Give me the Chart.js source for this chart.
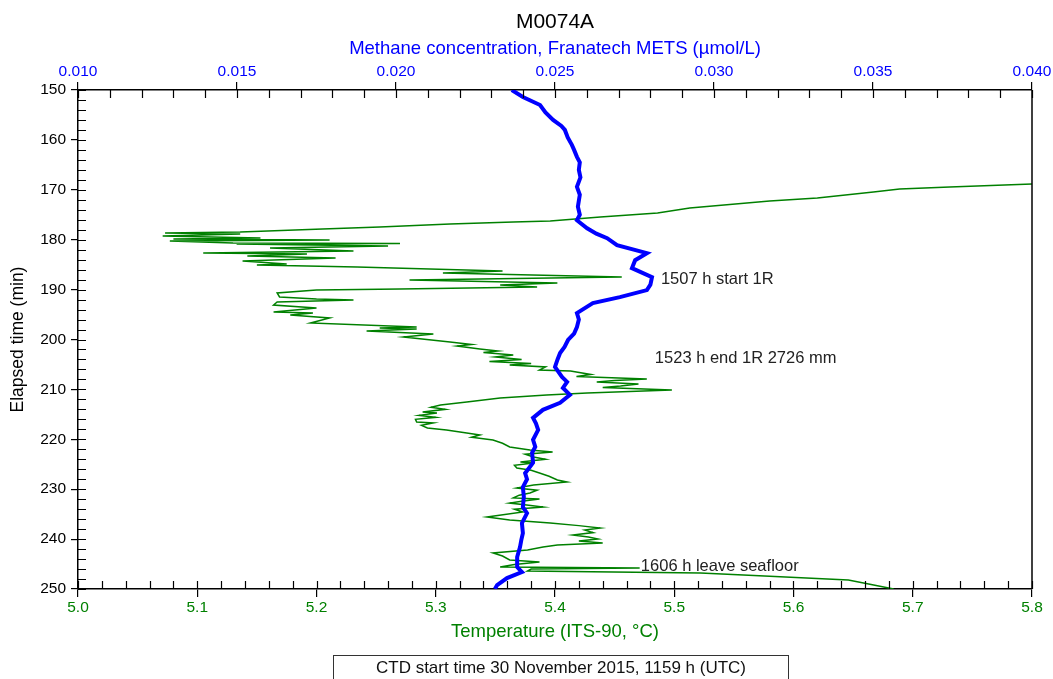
<!DOCTYPE html>
<html>
<head>
<meta charset="utf-8">
<title>M0074A</title>
<script src="https://cdn.jsdelivr.net/npm/chart.js@4"></script>
<style>
  html, body { margin: 0; padding: 0; background: #fff; }
  #wrap { width: 1053px; height: 679px; }
</style>
</head>
<body>
<div id="wrap"><canvas id="chart" width="1053" height="679"></canvas></div>
<script>
// Methane (top axis) vs elapsed time
const methaneTime = [150.0, 151.4, 153.0, 154.5, 156.0, 157.2, 158.0, 159.5, 161.0, 162.0, 163.4, 164.5,
    166.0, 167.5, 169.4, 171.0, 173.4, 175.0, 176.1, 177.7, 178.8, 179.7, 181.1, 182.7, 184.1, 185.7,
    187.5, 189.0, 190.1, 191.5, 192.7, 194.7, 196.0, 197.5, 198.8, 200.1, 201.5, 202.7, 204.0, 205.5,
    207.5, 208.5, 209.7, 211.1, 212.7, 214.1, 215.7, 216.8, 218.1, 220.1, 221.5, 222.7, 224.7, 226.8,
    228.0, 229.6, 231.5, 233.6, 234.8, 236.8, 238.8, 240.2, 241.6, 243.6, 245.6, 246.6, 247.8, 249.2,
    250.0];
const methaneValues = [0.02364, 0.02399, 0.02453, 0.02470, 0.02494, 0.02520, 0.02531, 0.02540, 0.02553,
    0.02560, 0.02569, 0.02578, 0.02575, 0.02580, 0.02569, 0.02578, 0.02572, 0.02578, 0.02569, 0.02601,
    0.02630, 0.02664, 0.02695, 0.02789, 0.02752, 0.02742, 0.02805, 0.02800, 0.02789, 0.02704, 0.02619,
    0.02569, 0.02575, 0.02569, 0.02560, 0.02541, 0.02530, 0.02516, 0.02508, 0.02500, 0.02522, 0.02538,
    0.02525, 0.02547, 0.02516, 0.02462, 0.02431, 0.02440, 0.02447, 0.02431, 0.02438, 0.02428, 0.02431,
    0.02406, 0.02412, 0.02399, 0.02402, 0.02399, 0.02412, 0.02396, 0.02399, 0.02394, 0.02390, 0.02381,
    0.02381, 0.02396, 0.02349, 0.02318, 0.02311];

// Temperature (bottom axis) vs elapsed time
const tempTime = [168.84, 169.44, 169.84, 170.44, 171.64, 172.24, 173.65, 174.65, 175.45, 176.25, 176.45,
    176.85, 177.45, 177.86, 178.46, 178.66, 178.86, 179.26, 179.66, 179.86, 180.06, 180.26, 180.66, 180.76,
    180.86, 181.26, 181.66, 182.26, 182.67, 182.87, 183.27, 183.67, 184.27, 184.87, 185.07, 185.47, 186.27,
    186.67, 187.47, 188.08, 188.68, 189.08, 189.48, 189.88, 190.08, 190.68, 191.48, 191.88, 192.08, 192.48,
    193.09, 193.69, 194.49, 194.69, 195.09, 195.69, 196.69, 197.49, 197.70, 197.90, 198.30, 198.90, 199.50,
    200.50, 201.00, 201.30, 201.90, 202.30, 202.60, 203.11, 203.50, 204.00, 204.40, 204.80, 205.11, 205.50,
    206.11, 206.31, 207.00, 207.40, 207.92, 208.20, 208.52, 208.90, 209.32, 209.60, 210.12, 210.72, 211.12,
    211.72, 212.53, 213.13, 213.60, 214.00, 214.53, 214.73, 215.20, 215.60, 216.00, 216.53, 216.73, 217.20,
    217.74, 218.14, 218.74, 219.14, 219.60, 220.14, 220.80, 221.54, 222.14, 222.55, 223.00, 223.55, 224.00,
    224.55, 224.75, 225.20, 225.75, 226.20, 226.75, 227.40, 228.16, 228.56, 229.16, 229.76, 230.20, 230.76,
    231.20, 231.76, 231.96, 232.40, 232.77, 233.20, 233.57, 234.00, 234.57, 235.57, 236.17, 236.77, 237.30,
    237.78, 238.20, 238.70, 239.18, 239.60, 240.00, 240.40, 240.78, 241.18, 241.60, 242.18, 242.79, 243.40,
    244.19, 244.59, 245.10, 245.59, 245.79, 246.00, 246.39, 246.79, 247.19, 248.20, 249.00, 250.00];
const tempValues = [5.800, 5.731, 5.689, 5.667, 5.620, 5.580, 5.513, 5.486, 5.438, 5.396, 5.365,
    5.312, 5.253, 5.205, 5.136, 5.073, 5.136, 5.071, 5.153, 5.080, 5.211, 5.077, 5.130, 5.270,
    5.133, 5.260, 5.161, 5.231, 5.105, 5.192, 5.142, 5.216, 5.138, 5.175, 5.150, 5.234, 5.356,
    5.306, 5.456, 5.278, 5.402, 5.354, 5.385, 5.270, 5.200, 5.167, 5.169, 5.200, 5.231, 5.167,
    5.164, 5.200, 5.164, 5.197, 5.178, 5.211, 5.195, 5.284, 5.253, 5.284, 5.242, 5.298, 5.273,
    5.312, 5.330, 5.318, 5.337, 5.352, 5.340, 5.365, 5.350, 5.372, 5.345, 5.380, 5.362, 5.392,
    5.387, 5.413, 5.430, 5.418, 5.477, 5.450, 5.435, 5.470, 5.455, 5.440, 5.498, 5.427, 5.393,
    5.354, 5.326, 5.304, 5.296, 5.308, 5.289, 5.301, 5.286, 5.300, 5.283, 5.284, 5.298, 5.288,
    5.293, 5.309, 5.326, 5.337, 5.330, 5.348, 5.356, 5.362, 5.379, 5.398, 5.375, 5.382, 5.392,
    5.371, 5.382, 5.366, 5.368, 5.380, 5.387, 5.395, 5.402, 5.410, 5.382, 5.368, 5.385, 5.379,
    5.370, 5.365, 5.387, 5.372, 5.362, 5.378, 5.390, 5.366, 5.373, 5.343, 5.362, 5.396, 5.420,
    5.438, 5.425, 5.432, 5.415, 5.428, 5.436, 5.420, 5.440, 5.402, 5.390, 5.377, 5.348, 5.356,
    5.362, 5.387, 5.366, 5.354, 5.471, 5.380, 5.377, 5.522, 5.558, 5.646, 5.663, 5.684];

// Notes placed at (methane, time)
const noteTexts = ['1507 h start 1R', '1523 h end 1R 2726 mm', '1606 h leave seafloor'];
const noteMethane = [0.02833, 0.02814, 0.02770];
const noteTime = [187.9, 203.7, 245.4];

const BLUE = '#0000ff';
const GREEN = '#008000';
const FONT = '"Liberation Sans", Arial, Helvetica, sans-serif';

Chart.defaults.font.family = FONT;
Chart.defaults.color = '#000';

// inward ticks, right frame, notes and the start-time box
const extras = {
    id: 'extras',
    afterDraw(chart) {
        const { ctx, chartArea: a, scales } = chart;
        ctx.save();
        ctx.strokeStyle = '#000';
        ctx.lineWidth = 1.2;
        ctx.beginPath();
        for (let i = 0; i <= 40; i++) {
            const px = Math.round(scales.x.getPixelForValue(5.0 + i * 0.02)) + 0.5;
            ctx.moveTo(px, a.bottom);
            ctx.lineTo(px, a.bottom - 8);
        }
        for (let i = 0; i <= 30; i++) {
            const px = Math.round(scales.x2.getPixelForValue(0.010 + i * 0.001)) + 0.5;
            ctx.moveTo(px, a.top);
            ctx.lineTo(px, a.top + 8);
        }
        for (let i = 0; i <= 50; i++) {
            const py = Math.round(scales.y.getPixelForValue(150 + i * 2)) + 0.5;
            ctx.moveTo(a.left, py);
            ctx.lineTo(a.left + 8, py);
        }
        ctx.stroke();
        ctx.lineWidth = 1.5;
        ctx.beginPath();
        ctx.moveTo(a.right, a.top);
        ctx.lineTo(a.right, a.bottom);
        ctx.stroke();

        ctx.fillStyle = '#222';
        ctx.font = '16.5px ' + FONT;
        ctx.textAlign = 'left';
        ctx.textBaseline = 'middle';
        noteTexts.forEach((txt, i) => {
            ctx.fillText(txt, scales.x2.getPixelForValue(noteMethane[i]), scales.y.getPixelForValue(noteTime[i]));
        });

        ctx.lineWidth = 1;
        ctx.strokeStyle = '#333';
        ctx.strokeRect(333.5, 655.5, 455, 40);
        ctx.fillStyle = '#111';
        ctx.font = '17px ' + FONT;
        ctx.textAlign = 'center';
        ctx.fillText('CTD start time 30 November 2015, 1159 h (UTC)', 561, 668);
        ctx.restore();
    }
};

new Chart(document.getElementById('chart'), {
    type: 'scatter',
    data: {
        datasets: [
            {
                label: 'Methane',
                data: methaneTime.map((t, i) => ({ x: methaneValues[i], y: t })),
                xAxisID: 'x2',
                yAxisID: 'y',
                showLine: true,
                borderColor: BLUE,
                borderWidth: 4,
                pointRadius: 0,
                tension: 0
            },
            {
                label: 'Temperature',
                data: tempTime.map((t, i) => ({ x: tempValues[i], y: t })),
                xAxisID: 'x',
                yAxisID: 'y',
                showLine: true,
                borderColor: GREEN,
                borderWidth: 1.5,
                pointRadius: 0,
                tension: 0
            }
        ]
    },
    options: {
        responsive: false,
        animation: false,
        devicePixelRatio: 1,
        layout: { padding: { left: 0, right: 21, top: 0, bottom: 30 } },
        plugins: {
            legend: { display: false },
            tooltip: { enabled: false },
            title: {
                display: true,
                text: 'M0074A',
                color: '#000',
                fullSize: false,
                font: { size: 21, weight: 'normal' },
                padding: { top: 9.4, bottom: 0 }
            }
        },
        scales: {
            x: {
                type: 'linear',
                position: 'bottom',
                min: 5.0,
                max: 5.8,
                ticks: { stepSize: 0.1, color: GREEN, font: { size: 15.5 }, padding: 1.7, maxRotation: 0, autoSkip: false,
                    callback: v => v.toFixed(1) },
                grid: { drawOnChartArea: false, tickLength: 8, color: '#000', lineWidth: 1.2 },
                border: { color: '#000', width: 1.5 },
                title: { display: true, text: 'Temperature (ITS-90, °C)', color: GREEN, font: { size: 18.5 },
                    padding: { top: 0, bottom: 5.9 } },
                afterFit: s => { s.height = 60; }
            },
            x2: {
                type: 'linear',
                position: 'top',
                min: 0.010,
                max: 0.040,
                ticks: { stepSize: 0.005, color: BLUE, font: { size: 15.5 }, padding: 1, maxRotation: 0, autoSkip: false,
                    callback: v => v.toFixed(3) },
                grid: { drawOnChartArea: false, tickLength: 8, color: '#000', lineWidth: 1.2 },
                border: { color: '#000', width: 1.5 },
                title: { display: true, text: 'Methane concentration, Franatech METS (µmol/L)', color: BLUE,
                    font: { size: 18.5 }, padding: { top: 3.3, bottom: 0 } },
                afterFit: s => { s.height = 55.4; }
            },
            y: {
                type: 'linear',
                position: 'left',
                reverse: true,
                min: 150,
                max: 250,
                ticks: { stepSize: 10, color: '#000', font: { size: 15.5 }, padding: 5, autoSkip: false },
                grid: { drawOnChartArea: false, tickLength: 7, color: '#000', lineWidth: 1.2 },
                border: { color: '#000', width: 1.5 },
                title: { display: true, text: 'Elapsed time (min)', color: '#000', font: { size: 17.5 },
                    padding: { top: 7.5, bottom: 0 } },
                afterFit: s => { s.width = 78; }
            }
        }
    },
    plugins: [extras]
});
</script>
</body>
</html>
